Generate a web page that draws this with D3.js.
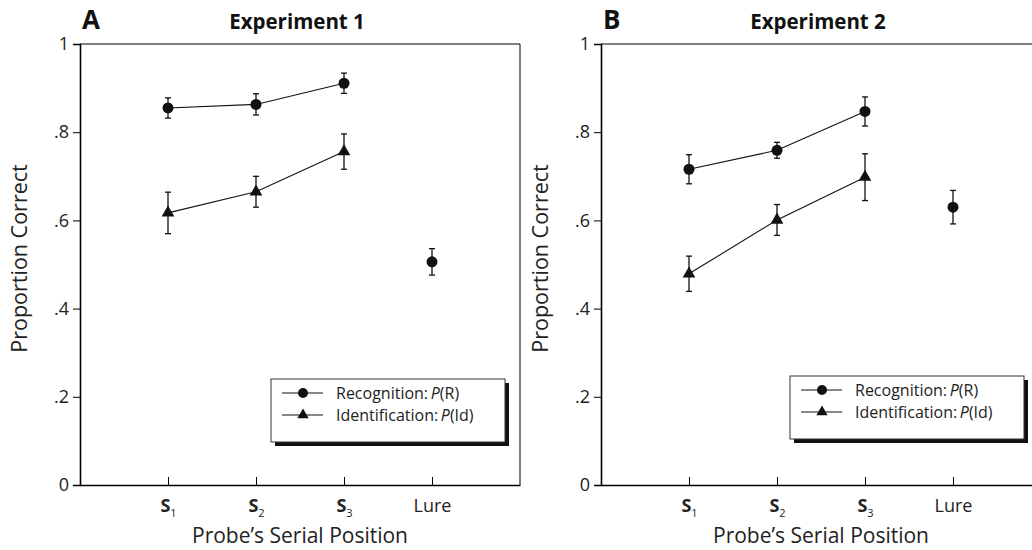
<!DOCTYPE html>
<html>
<head>
<meta charset="utf-8">
<script src="https://cdn.jsdelivr.net/npm/d3@7"></script>
<style>
  body { margin: 0; background: #fff; }
  svg { display: block; font-family: "Open Sans", "Noto Sans", sans-serif; }
</style>
</head>
<body>
<svg width="1032" height="550"></svg>
<script>
// categories on the x axis (1..4)
var positions = [1, 2, 3, 4];
var posNames = ["S1", "S2", "S3", "Lure"];
var yTicks = [0, 0.2, 0.4, 0.6, 0.8, 1];

// Experiment 1
var exp1Recog = [0.855, 0.863, 0.911, 0.506];
var exp1RecogErr = [0.023, 0.024, 0.023, 0.030];
var exp1Ident = [0.617, 0.665, 0.756];
var exp1IdentErr = [0.047, 0.035, 0.040];

// Experiment 2
var exp2Recog = [0.716, 0.759, 0.847, 0.630];
var exp2RecogErr = [0.033, 0.018, 0.033, 0.038];
var exp2Ident = [0.479, 0.601, 0.698];
var exp2IdentErr = [0.040, 0.035, 0.053];

var svg = d3.select("svg");

function panel(opt) {
  var x = d3.scaleLinear().domain([0, 5]).range([opt.left, opt.left + 440]);
  var y = d3.scaleLinear().domain([0, 1]).range([485, 44]);
  var g = svg.append("g");

  // frame (top and right)
  g.append("path")
    .attr("d", "M" + x(0) + "," + y(1) + "H" + x(5) + "V" + y(0))
    .attr("fill", "none").attr("stroke", "#000").attr("stroke-width", 1);

  // y axis
  var yAxis = g.append("g")
    .attr("transform", "translate(" + x(0) + ",0)")
    .call(d3.axisLeft(y).tickValues(yTicks).tickSize(7).tickPadding(4)
      .tickFormat(function(d) { return d == 0 ? "0" : d == 1 ? "1" : d3.format(".1f")(d).replace("0.", "."); }));
  yAxis.select(".domain").attr("stroke-width", 1.6);
  yAxis.selectAll("text").attr("font-size", 18).attr("fill", "#222").attr("font-family", "Open Sans");

  // x axis, ticks point inward
  var xAxis = g.append("g")
    .attr("transform", "translate(0," + y(0) + ")")
    .call(d3.axisBottom(x).tickValues(positions).tickSizeInner(-8).tickSizeOuter(0).tickFormat(""));
  xAxis.select(".domain").attr("stroke-width", 1.6);
  xAxis.selectAll(".tick").each(function(d, i) {
    var t = d3.select(this).append("text")
      .attr("y", 27).attr("fill", "#222").attr("font-size", 18)
      .attr("text-anchor", "middle").attr("font-family", "Open Sans");
    var name = posNames[i];
    if (name[0] == "S") {
      t.append("tspan").attr("font-weight", "bold").text("S");
      t.append("tspan").attr("font-size", 11).attr("dy", 5).text(name.slice(1));
    } else {
      t.text(name);
    }
  });

  // axis titles
  g.append("text")
    .attr("x", x(2.5)).attr("y", 543)
    .attr("text-anchor", "middle").attr("font-size", 21).attr("fill", "#222")
    .text("Probe\u2019s Serial Position");
  g.append("text")
    .attr("transform", "translate(" + (opt.left - 53) + "," + (y(0.5) - 6) + ") rotate(-90)")
    .attr("text-anchor", "middle").attr("font-size", 21.5).attr("fill", "#222")
    .text("Proportion Correct");

  // panel letter and title
  g.append("text")
    .attr("x", opt.left + 2).attr("y", 29)
    .attr("font-size", 26).attr("font-weight", "bold").attr("fill", "#111")
    .text(opt.letter);
  g.append("text")
    .attr("x", x(2.5) - 3).attr("y", 29)
    .attr("text-anchor", "middle").attr("font-size", 20.5).attr("font-weight", "bold").attr("fill", "#111")
    .text(opt.title);

  var line = d3.line().x(function(d) { return x(d.p); }).y(function(d) { return y(d.v); });

  var recog = opt.recog.map(function(v, i) { return { p: positions[i], v: v, e: opt.recogErr[i] }; });
  var ident = opt.ident.map(function(v, i) { return { p: positions[i], v: v, e: opt.identErr[i] }; });

  // connecting lines (Lure is not connected)
  g.append("path").attr("d", line(recog.slice(0, 3)))
    .attr("fill", "none").attr("stroke", "#111").attr("stroke-width", 1.1);
  g.append("path").attr("d", line(ident))
    .attr("fill", "none").attr("stroke", "#111").attr("stroke-width", 1.1);

  // error bars
  var all = recog.concat(ident);
  var eb = g.append("g").attr("stroke", "#111").attr("stroke-width", 1.3);
  all.forEach(function(d) {
    eb.append("line").attr("x1", x(d.p)).attr("x2", x(d.p)).attr("y1", y(d.v - d.e)).attr("y2", y(d.v + d.e));
    eb.append("line").attr("x1", x(d.p) - 3).attr("x2", x(d.p) + 3).attr("y1", y(d.v - d.e)).attr("y2", y(d.v - d.e));
    eb.append("line").attr("x1", x(d.p) - 3).attr("x2", x(d.p) + 3).attr("y1", y(d.v + d.e)).attr("y2", y(d.v + d.e));
  });

  // markers
  g.selectAll(".circ").data(recog).enter().append("circle")
    .attr("cx", function(d) { return x(d.p); })
    .attr("cy", function(d) { return y(d.v); })
    .attr("r", 5.5).attr("fill", "#111");
  var tri = d3.symbol().type(d3.symbolTriangle).size(70);
  g.selectAll(".tri").data(ident).enter().append("path")
    .attr("d", tri)
    .attr("transform", function(d) { return "translate(" + x(d.p) + "," + y(d.v) + ")"; })
    .attr("fill", "#111");

  // legend
  var lg = g.append("g").attr("transform", "translate(" + opt.legX + "," + opt.legY + ")");
  lg.append("rect").attr("x", 4).attr("y", 4).attr("width", 234).attr("height", 63).attr("fill", "#111");
  lg.append("rect").attr("x", 0).attr("y", 0).attr("width", 234).attr("height", 63)
    .attr("fill", "#fff").attr("stroke", "#333").attr("stroke-width", 1);
  var rows = [
    { label: "Recognition:", p: "P", rest: "(R)", sym: "circle" },
    { label: "Identification:", p: "P", rest: "(Id)", sym: "tri" }
  ];
  rows.forEach(function(r, i) {
    var cy = 14 + i * 22;
    lg.append("line").attr("x1", 11).attr("x2", 52).attr("y1", cy).attr("y2", cy)
      .attr("stroke", "#111").attr("stroke-width", 1.1);
    if (r.sym == "circle") {
      lg.append("circle").attr("cx", 32).attr("cy", cy).attr("r", 5).attr("fill", "#111");
    } else {
      lg.append("path").attr("d", d3.symbol().type(d3.symbolTriangle).size(55))
        .attr("transform", "translate(32," + cy + ")").attr("fill", "#111");
    }
    var t = lg.append("text").attr("x", 65).attr("y", cy + 5.5)
      .attr("font-size", 16).attr("fill", "#222");
    t.append("tspan").text(r.label + "\u2009");
    t.append("tspan").attr("font-style", "italic").text(r.p);
    t.append("tspan").text(r.rest);
  });
}

panel({ left: 80, letter: "A", title: "Experiment 1",
  recog: exp1Recog, recogErr: exp1RecogErr, ident: exp1Ident, identErr: exp1IdentErr,
  legX: 271, legY: 379 });
panel({ left: 601, letter: "B", title: "Experiment 2",
  recog: exp2Recog, recogErr: exp2RecogErr, ident: exp2Ident, identErr: exp2IdentErr,
  legX: 790, legY: 376 });
</script>
</body>
</html>
